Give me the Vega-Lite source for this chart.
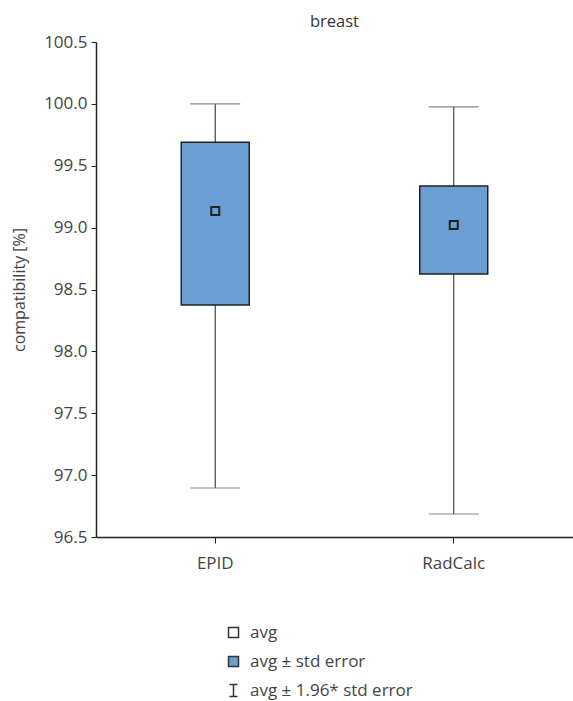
{
  "$schema": "https://vega.github.io/schema/vega-lite/v6.json",
  "autosize": "none",
  "width": 477,
  "height": 495,
  "padding": {"left": 96, "top": 42, "right": 0, "bottom": 164},
  "background": "white",
  "title": {"text": "breast", "fontSize": 16.5, "font": "Open Sans", "fontWeight": "normal", "color": "#333", "anchor": "middle", "offset": 3},
  "config": {
    "font": "Open Sans",
    "view": {"stroke": null},
    "axis": {"labelFont": "Open Sans", "titleFont": "Open Sans", "labelColor": "#444", "titleColor": "#444", "domainColor": "#222", "tickColor": "#222", "grid": false, "labelFontSize": 17, "titleFontSize": 16, "titleFontWeight": "normal"}
  },
  "data": {"values": [
    {"method": "EPID", "mean": 99.135, "lo": 98.375, "hi": 99.69, "wlo": 96.896, "whi": 100.0},
    {"method": "RadCalc", "mean": 99.021, "lo": 98.625, "hi": 99.336, "wlo": 96.686, "whi": 99.975}
  ]},
  "encoding": {
    "x": {"field": "method", "type": "nominal", "sort": null, "scale": {"paddingInner": 0, "paddingOuter": 0},
      "axis": {"title": null, "labelAngle": 0, "tickSize": 6, "labelPadding": 12, "domainWidth": 1.5}}
  },
  "layer": [
    {
      "mark": {"type": "rule", "color": "#444", "strokeWidth": 1.2},
      "encoding": {
        "y": {"field": "wlo", "type": "quantitative", "scale": {"domain": [96.5, 100.5], "zero": false, "nice": false},
          "axis": {"title": "compatibility [%]", "values": [96.5, 97.0, 97.5, 98.0, 98.5, 99.0, 99.5, 100.0, 100.5], "format": ".1f", "tickSize": 5, "labelPadding": 4, "titlePadding": 16, "domainWidth": 1.5}},
        "y2": {"field": "whi"}
      }
    },
    {
      "mark": {"type": "tick", "orient": "horizontal", "size": 50, "thickness": 1.2, "color": "#555"},
      "encoding": {"y": {"field": "wlo", "type": "quantitative"}}
    },
    {
      "mark": {"type": "tick", "orient": "horizontal", "size": 50, "thickness": 1.2, "color": "#555"},
      "encoding": {"y": {"field": "whi", "type": "quantitative"}}
    },
    {
      "mark": {"type": "bar", "size": 68, "fill": "#6b9fd3", "stroke": "#222", "strokeWidth": 1.5},
      "encoding": {"y": {"field": "lo", "type": "quantitative"}, "y2": {"field": "hi"}}
    },
    {
      "mark": {"type": "point", "shape": "square", "size": 64, "filled": false, "fill": "#6b9fd3", "fillOpacity": 1, "stroke": "#222", "strokeWidth": 2, "opacity": 1},
      "encoding": {"y": {"field": "mean", "type": "quantitative"}}
    },
    {
      "data": {"values": [
        {"item": "avg"},
        {"item": "avg ± std error"},
        {"item": "avg ± 1.96* std error"}
      ]},
      "mark": {"type": "point", "opacity": 0, "filled": true},
      "encoding": {
        "x": {"value": 0},
        "y": {"value": 0},
        "fill": {"field": "item", "type": "nominal", "sort": null,
          "scale": {"domain": ["avg", "avg ± std error", "avg ± 1.96* std error"], "range": ["#ffffff", "#6b9fd3", "transparent"]},
          "legend": {"title": null, "orient": "none", "legendX": 129, "legendY": 582, "direction": "vertical",
            "symbolOpacity": 1, "symbolStrokeColor": "#333", "symbolStrokeWidth": 1.5, "symbolSize": 100,
            "labelFontSize": 17, "labelFont": "Open Sans", "labelColor": "#444", "labelLimit": 400, "rowPadding": 11, "labelOffset": 8,
            "encode": {"symbols": {"update": {"opacity": {"value": 1}, "fillOpacity": {"value": 1}, "strokeOpacity": {"value": 1}, "stroke": {"value": "#333"}}}}}},
        "shape": {"field": "item", "type": "nominal", "sort": null,
          "scale": {"domain": ["avg", "avg ± std error", "avg ± 1.96* std error"], "range": ["square", "square", "M-0.8,-1.2H0.8M0,-1.2V1.2M-0.8,1.2H0.8"]}}
      }
    }
  ]
}
